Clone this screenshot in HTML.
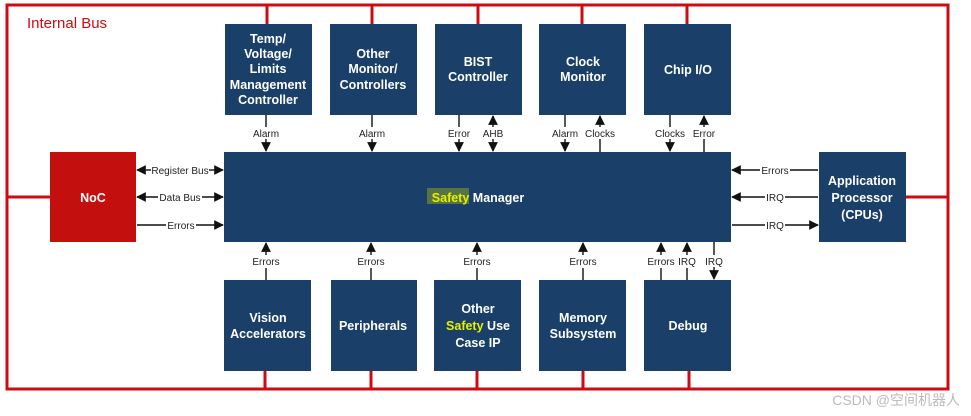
<!DOCTYPE html>
<html><head><meta charset="utf-8"><style>
html,body{margin:0;padding:0;background:#fff;}
svg{display:block;font-family:"Liberation Sans",Arial,sans-serif;}
.b{fill:#1a3f69;}
.t{fill:#fff;font-weight:bold;font-size:12.5px;text-anchor:middle;}
.s{fill:#222;font-size:10px;text-anchor:middle;}
.l{stroke:#111;stroke-width:1.4;fill:none;}
.r{stroke:#cc0c12;stroke-width:3;fill:none;}
</style></head><body>
<svg width="971" height="416" viewBox="0 0 971 416">
<defs>
<marker id="a" viewBox="0 0 10 10" refX="9" refY="5" markerWidth="7" markerHeight="7" orient="auto-start-reverse"><path d="M0,0L10,5L0,10z" fill="#111"/></marker>
</defs>
<!-- red bus -->
<path class="r" d="M7,5H948V389H7Z"/>
<path class="r" d="M267,5V24M372,5V24M478,5V24M582,5V24M687,5V24"/>
<path class="r" d="M265,371V389M371,371V389M477,371V389M583,371V389M689,371V389"/>
<path class="r" d="M7,197H50M906,197H948"/>
<text x="27" y="28" fill="#cc0c12" font-size="15">Internal Bus</text>
<!-- top boxes -->
<rect class="b" x="225" y="24" width="87" height="91"/>
<rect class="b" x="330" y="24" width="87" height="91"/>
<rect class="b" x="435" y="24" width="87" height="91"/>
<rect class="b" x="539" y="24" width="87" height="91"/>
<rect class="b" x="644" y="24" width="87" height="91"/>
<text class="t" x="268" y="43">Temp/</text>
<text class="t" x="268" y="58">Voltage/</text>
<text class="t" x="268" y="73">Limits</text>
<text class="t" x="268" y="89">Management</text>
<text class="t" x="268" y="104">Controller</text>
<text class="t" x="373" y="58">Other</text>
<text class="t" x="373" y="73">Monitor/</text>
<text class="t" x="373" y="89">Controllers</text>
<text class="t" x="478" y="66">BIST</text>
<text class="t" x="478" y="81">Controller</text>
<text class="t" x="583" y="66">Clock</text>
<text class="t" x="583" y="81">Monitor</text>
<text class="t" x="688" y="74">Chip I/O</text>
<!-- safety manager -->
<rect class="b" x="224" y="152" width="507" height="90"/>
<rect x="427" y="188" width="42" height="16" fill="#c8d800" opacity="0.35"/>
<text class="t" x="478" y="202"><tspan fill="#e8f000">Safety</tspan> Manager</text>
<!-- NoC / AP -->
<rect x="50" y="152" width="86" height="90" fill="#c3100f"/>
<text class="t" x="93" y="202">NoC</text>
<rect class="b" x="819" y="152" width="87" height="90"/>
<text class="t" x="862" y="185">Application</text>
<text class="t" x="862" y="202">Processor</text>
<text class="t" x="862" y="219">(CPUs)</text>
<!-- bottom boxes -->
<rect class="b" x="224" y="280" width="87" height="91"/>
<rect class="b" x="331" y="280" width="86" height="91"/>
<rect class="b" x="434" y="280" width="87" height="91"/>
<rect class="b" x="539" y="280" width="87" height="91"/>
<rect class="b" x="644" y="280" width="87" height="91"/>
<text class="t" x="268" y="322">Vision</text>
<text class="t" x="268" y="338">Accelerators</text>
<text class="t" x="373" y="330">Peripherals</text>
<text class="t" x="478" y="313">Other</text>
<text class="t" x="478" y="330"><tspan fill="#e8f000">Safety</tspan> Use</text>
<text class="t" x="478" y="347">Case IP</text>
<text class="t" x="583" y="322">Memory</text>
<text class="t" x="583" y="338">Subsystem</text>
<text class="t" x="688" y="330">Debug</text>
<!-- top arrows -->
<g class="l">
<path d="M266,115V127M266,139V151" marker-end="url(#a)"/>
<path d="M372,115V127M372,139V151" marker-end="url(#a)"/>
<path d="M459,115V127M459,139V151" marker-end="url(#a)"/>
<path d="M493,116V127" marker-start="url(#a)"/><path d="M493,139V151" marker-end="url(#a)"/>
<path d="M565,115V127M565,139V151" marker-end="url(#a)"/>
<path d="M600,116V127" marker-start="url(#a)"/><path d="M600,139V152"/>
<path d="M670,115V127M670,139V151" marker-end="url(#a)"/>
<path d="M704,116V127" marker-start="url(#a)"/><path d="M704,139V152"/>
</g>
<text class="s" x="266" y="137">Alarm</text>
<text class="s" x="372" y="137">Alarm</text>
<text class="s" x="459" y="137">Error</text>
<text class="s" x="493" y="137">AHB</text>
<text class="s" x="565" y="137">Alarm</text>
<text class="s" x="600" y="137">Clocks</text>
<text class="s" x="670" y="137">Clocks</text>
<text class="s" x="704" y="137">Error</text>
<!-- bottom arrows -->
<g class="l">
<path d="M266,243V255" marker-start="url(#a)"/><path d="M266,268V280"/>
<path d="M371,243V255" marker-start="url(#a)"/><path d="M371,268V280"/>
<path d="M477,243V255" marker-start="url(#a)"/><path d="M477,268V280"/>
<path d="M583,243V255" marker-start="url(#a)"/><path d="M583,268V280"/>
<path d="M661,243V255" marker-start="url(#a)"/><path d="M661,268V280"/>
<path d="M687,243V255" marker-start="url(#a)"/><path d="M687,268V280"/>
<path d="M714,242V255"/><path d="M714,267V279" marker-end="url(#a)"/>
</g>
<text class="s" x="266" y="265">Errors</text>
<text class="s" x="371" y="265">Errors</text>
<text class="s" x="477" y="265">Errors</text>
<text class="s" x="583" y="265">Errors</text>
<text class="s" x="661" y="265">Errors</text>
<text class="s" x="687" y="265">IRQ</text>
<text class="s" x="714" y="265">IRQ</text>
<!-- left arrows -->
<g class="l">
<path d="M137,170H151" marker-start="url(#a)"/><path d="M209,170H223" marker-end="url(#a)"/>
<path d="M137,197H158" marker-start="url(#a)"/><path d="M202,197H223" marker-end="url(#a)"/>
<path d="M137,225H166M196,225H223" marker-end="url(#a)"/>
<path d="M732,170H760" marker-start="url(#a)"/><path d="M790,170H818"/>
<path d="M732,197H765" marker-start="url(#a)"/><path d="M785,197H818"/>
<path d="M732,225H765M785,225H818" marker-end="url(#a)"/>
</g>
<text class="s" x="180" y="174">Register Bus</text>
<text class="s" x="180" y="201">Data Bus</text>
<text class="s" x="181" y="229">Errors</text>
<text class="s" x="775" y="174">Errors</text>
<text class="s" x="775" y="201">IRQ</text>
<text class="s" x="775" y="229">IRQ</text>
<text x="960" y="405" fill="#bbb" font-size="14" text-anchor="end" font-family="Liberation Sans, Noto Sans CJK SC, sans-serif">CSDN @空间机器人</text>
</svg>
</body></html>
